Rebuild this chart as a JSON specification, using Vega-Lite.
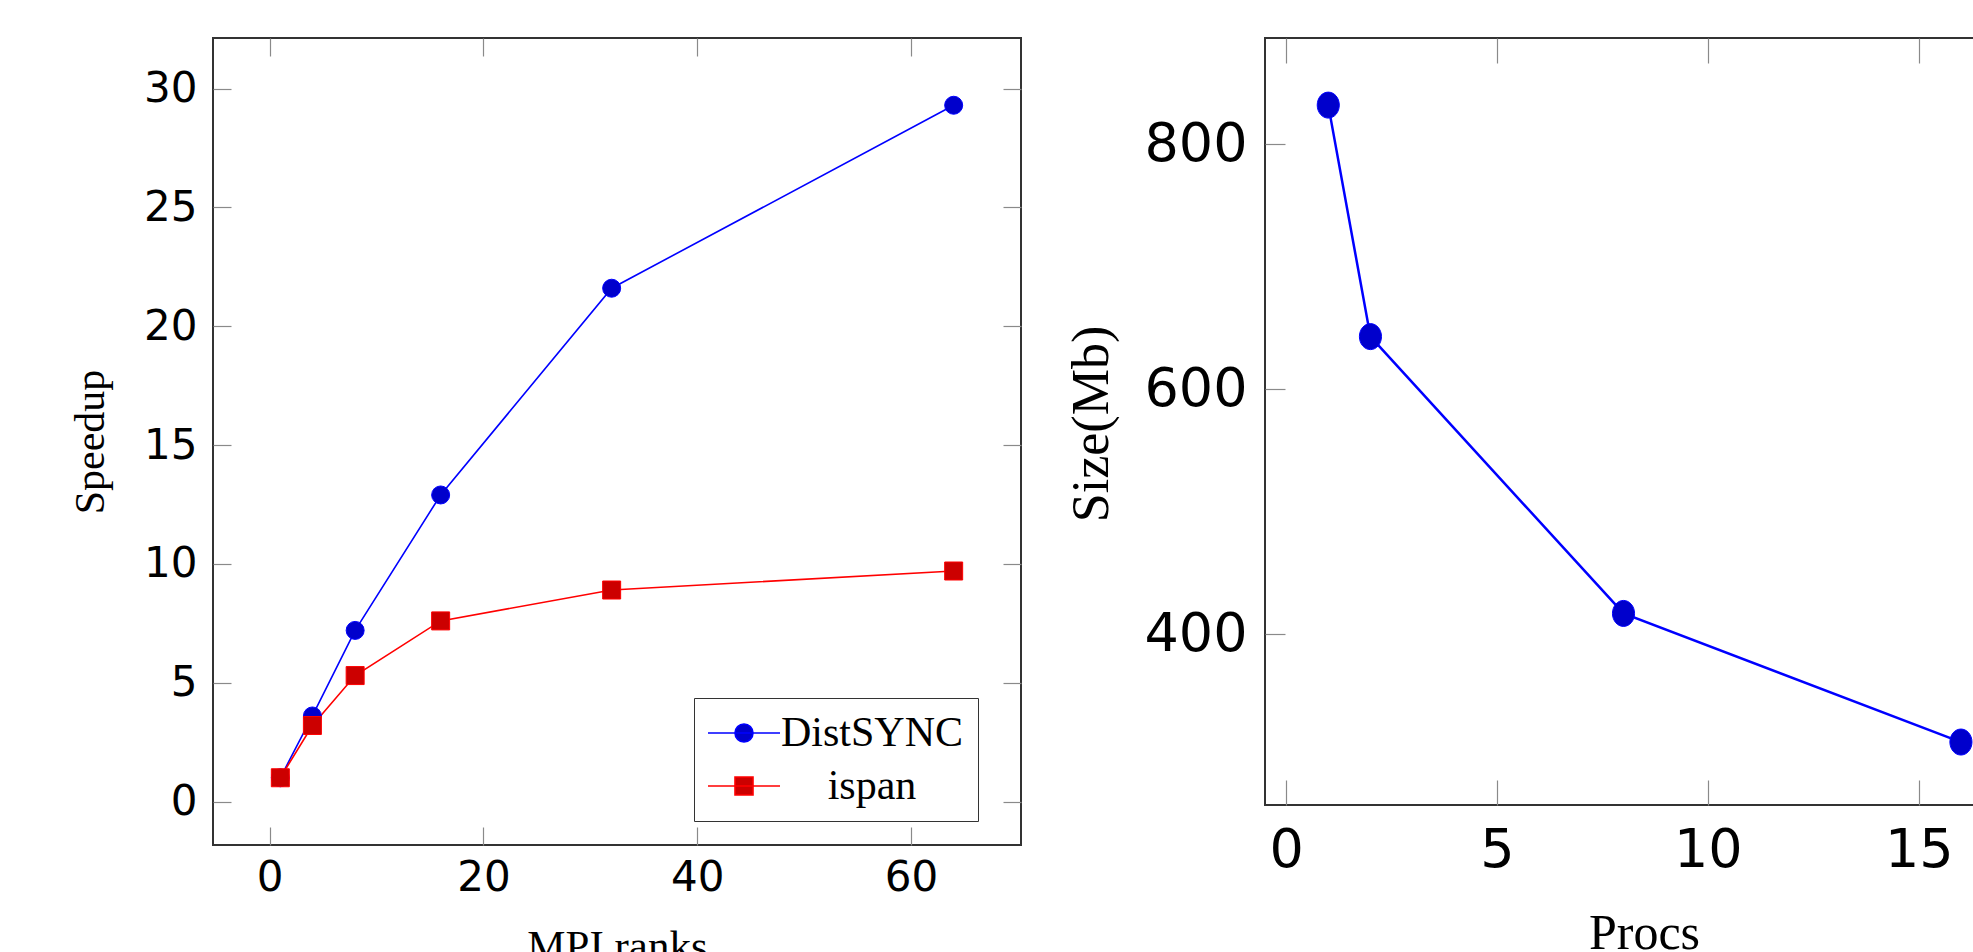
{
  "$schema": "https://vega.github.io/schema/vega-lite/v6.json",
  "autosize": {"type": "none"},
  "padding": {"left": 213, "top": 38, "right": 1760, "bottom": 914},
  "background": "white",
  "spacing": 41,
  "config": {
    "view": {"stroke": "#333333", "strokeWidth": 2},
    "axis": {
      "grid": false,
      "domain": false,
      "tickColor": "#8a8a8a",
      "tickWidth": 1.2,
      "labelColor": "#000000",
      "titleColor": "#000000",
      "titleFontWeight": "normal",
      "labelFont": "DejaVu Sans",
      "titleFont": "Liberation Serif",
      "labelOverlap": false,
      "labelFlush": false
    }
  },
  "hconcat": [
    {
      "width": 808,
      "height": 807,
      "data": {
        "values": [
          {"ranks": 1, "speedup": 1.0, "series": "DistSYNC"},
          {"ranks": 4, "speedup": 3.6, "series": "DistSYNC"},
          {"ranks": 8, "speedup": 7.2, "series": "DistSYNC"},
          {"ranks": 16, "speedup": 12.9, "series": "DistSYNC"},
          {"ranks": 32, "speedup": 21.6, "series": "DistSYNC"},
          {"ranks": 64, "speedup": 29.3, "series": "DistSYNC"},
          {"ranks": 1, "speedup": 1.0, "series": "ispan"},
          {"ranks": 4, "speedup": 3.2, "series": "ispan"},
          {"ranks": 8, "speedup": 5.3, "series": "ispan"},
          {"ranks": 16, "speedup": 7.6, "series": "ispan"},
          {"ranks": 32, "speedup": 8.9, "series": "ispan"},
          {"ranks": 64, "speedup": 9.7, "series": "ispan"}
        ]
      },
      "layer": [
        {
          "mark": {"type": "line", "strokeWidth": 1.6},
          "encoding": {
            "x": {
              "field": "ranks", "type": "quantitative",
              "scale": {"domain": [-5.3, 70.3], "nice": false, "zero": false},
              "axis": {
                "orient": "bottom", "values": [0, 20, 40, 60],
                "labelFontSize": 42, "labelPadding": 30, "tickSize": -18,
                "title": "MPI ranks", "titleFontSize": 43,
                "titleX": 404, "titleY": 114, "titleBaseline": "alphabetic", "titleAlign": "center"
              }
            },
            "y": {
              "field": "speedup", "type": "quantitative",
              "scale": {"domain": [-1.83, 32.13], "nice": false, "zero": false},
              "axis": {
                "orient": "left", "values": [0, 5, 10, 15, 20, 25, 30],
                "labelFontSize": 42, "labelPadding": 34, "tickSize": -18,
                "title": "Speedup", "titleFontSize": 42, "titleAngle": -90,
                "titleX": -110, "titleY": 403.5, "titleBaseline": "alphabetic", "titleAlign": "center"
              }
            },
            "color": {
              "field": "series", "type": "nominal",
              "scale": {"domain": ["ispan", "DistSYNC"], "range": ["#ff0000", "#0000ff"]},
              "legend": null
            }
          }
        },
        {
          "transform": [{"filter": "datum.series === 'DistSYNC'"}],
          "mark": {"type": "point", "shape": "circle", "filled": true, "opacity": 1, "size": 324, "fill": "#0000cc", "stroke": "#0000ff", "strokeWidth": 1},
          "encoding": {
            "x": {
              "field": "ranks", "type": "quantitative",
              "axis": {"orient": "top", "values": [0, 20, 40, 60], "labels": false, "title": null, "tickSize": -18}
            },
            "y": {
              "field": "speedup", "type": "quantitative",
              "axis": {"orient": "right", "values": [0, 5, 10, 15, 20, 25, 30], "labels": false, "title": null, "tickSize": -18}
            }
          }
        },
        {
          "transform": [{"filter": "datum.series === 'ispan'"}],
          "mark": {"type": "point", "shape": "square", "filled": true, "opacity": 1, "size": 324, "fill": "#cc0000", "stroke": "#ff0000", "strokeWidth": 1},
          "encoding": {
            "x": {"field": "ranks", "type": "quantitative", "axis": null},
            "y": {"field": "speedup", "type": "quantitative", "axis": null}
          }
        },
        {
          "transform": [{"filter": "false"}],
          "mark": {"type": "point", "filled": true, "opacity": 1, "size": 324, "strokeWidth": 1.6},
          "encoding": {
            "x": {"field": "ranks", "type": "quantitative", "axis": null},
            "y": {"field": "speedup", "type": "quantitative", "axis": null},
            "stroke": {
              "field": "series", "type": "nominal",
              "scale": {"domain": ["DistSYNC", "ispan"], "range": ["#0000ff", "#ff0000"]}
            },
            "shape": {
              "field": "series", "type": "nominal",
              "scale": {"domain": ["DistSYNC", "ispan"], "range": ["M-4,0H4M-1,0A1,1 0 1,0 1,0A1,1 0 1,0 -1,0Z", "M-4,0H4M-1,-1H1V1H-1Z"]}
            },
            "fill": {
              "field": "series", "type": "nominal",
              "scale": {"domain": ["DistSYNC", "ispan"], "range": ["#0000cc", "#cc0000"]},
              "legend": {
                "orient": "none", "legendX": 481, "legendY": 660, "title": null,
                "padding": 14, "strokeColor": "#333333", "fillColor": "#ffffff",
                "symbolSize": 324, "symbolStrokeWidth": 1.6, "symbolOpacity": 1,
                "symbolOffset": 15, "labelOffset": 107, "labelAlign": "center",
                "labelFont": "Liberation Serif", "labelFontSize": 42, "labelColor": "#000000",
                "rowPadding": 11, "labelLimit": 400
              }
            }
          }
        }
      ],
      "resolve": {"axis": {"x": "independent", "y": "independent"}}
    },
    {
      "width": 709,
      "height": 767,
      "data": {
        "values": [
          {"procs": 1, "size": 832},
          {"procs": 2, "size": 643},
          {"procs": 8, "size": 417},
          {"procs": 16, "size": 312}
        ]
      },
      "layer": [
        {
          "mark": {"type": "line", "strokeWidth": 2.5, "color": "#0000ff"},
          "encoding": {
            "x": {
              "field": "procs", "type": "quantitative",
              "scale": {"domain": [-0.5, 16.31], "nice": false, "zero": false},
              "axis": {
                "orient": "bottom", "values": [0, 5, 10, 15],
                "labelFontSize": 54, "labelPadding": 43, "tickSize": -25,
                "title": "Procs", "titleFontSize": 50,
                "titleX": 379, "titleY": 143, "titleBaseline": "alphabetic", "titleAlign": "center"
              }
            },
            "y": {
              "field": "size", "type": "quantitative",
              "scale": {"domain": [260.6, 886.8], "nice": false, "zero": false},
              "axis": {
                "orient": "left", "values": [400, 600, 800],
                "labelFontSize": 54, "labelPadding": 38, "tickSize": -20,
                "title": "Size(Mb)", "titleFontSize": 52, "titleAngle": -90,
                "titleX": -158, "titleY": 385.5, "titleBaseline": "alphabetic", "titleAlign": "center"
              }
            }
          }
        },
        {
          "mark": {
            "type": "point", "filled": true, "opacity": 1, "size": 676,
            "shape": "M-0.85,0A0.85,1 0 1,0 0.85,0A0.85,1 0 1,0 -0.85,0Z",
            "fill": "#0000cc", "stroke": "#0000ff", "strokeWidth": 1
          },
          "encoding": {
            "x": {
              "field": "procs", "type": "quantitative",
              "axis": {"orient": "top", "values": [0, 5, 10, 15], "labels": false, "title": null, "tickSize": -25}
            },
            "y": {"field": "size", "type": "quantitative", "axis": null}
          }
        }
      ],
      "resolve": {"axis": {"x": "independent", "y": "independent"}}
    }
  ]
}
